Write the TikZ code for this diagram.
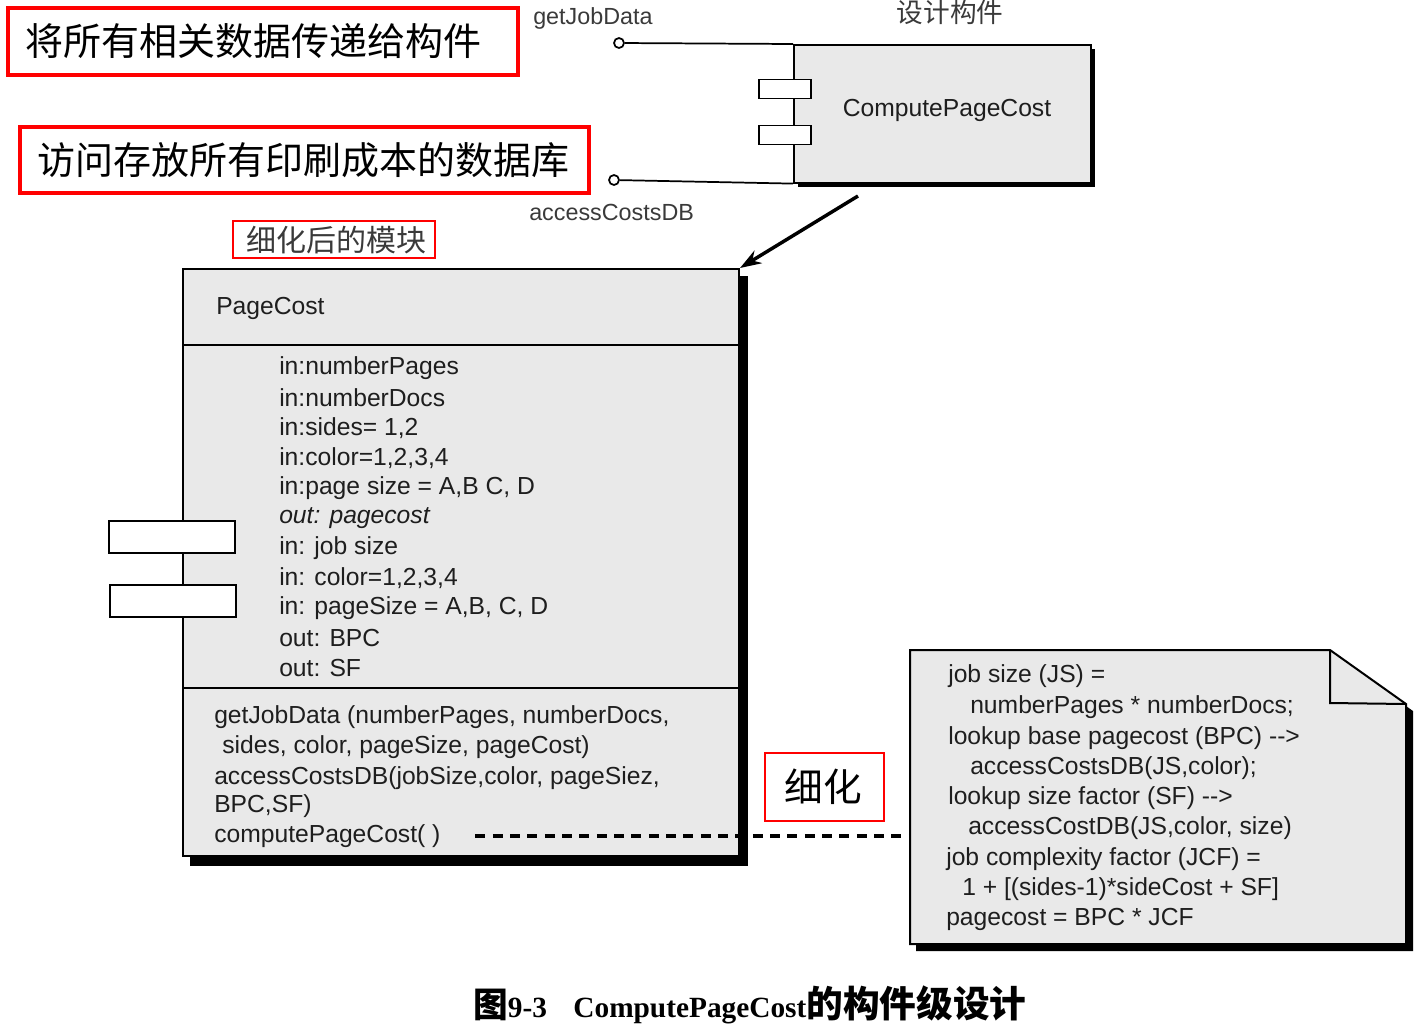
\documentclass[tikz,border=0pt]{standalone}
\usepackage{fontspec}
\setmainfont{Liberation Sans}
\newfontfamily\cjk{Noto Sans CJK SC}
\newfontfamily\capserif{Liberation Serif}
\usetikzlibrary{arrows.meta}
\definecolor{boxgray}{HTML}{E9E9E9}
\definecolor{txt}{HTML}{1E1E1E}
\definecolor{lblgray}{HTML}{3A3A3A}
\begin{document}
\begin{tikzpicture}[x=0.75pt,y=-0.75pt,
  redline/.style={draw=red, line width=3pt},
  redthin/.style={draw=red, line width=1.8pt},
  bigcjk/.style={font=\cjk\fontsize{28.5}{31}\selectfont, text=black, inner sep=0pt},
  umltext/.style={font=\fontsize{18.5}{20}\selectfont, text=txt, inner sep=0pt, anchor=west},
  port/.style={draw=black, fill=white, line width=1.3pt, inner sep=0pt},
  lbl/.style={font=\fontsize{17.5}{19}\selectfont, text=lblgray, inner sep=0pt},
  iface/.style={circle, draw=black, line width=1.3pt, fill=white, inner sep=0pt, minimum size=10*0.75pt},
]
\useasboundingbox (0,0) rectangle (1428,1029);

% ---------- red annotation boxes ----------
\draw[redline] (8,8) rectangle (518,75);
\node[bigcjk, anchor=west] (r1) at (25,41.5) {将所有相关数据传递给构件};
\draw[redline] (20,127) rectangle (589,193);
\node[bigcjk, anchor=west] (r2) at (37,160) {访问存放所有印刷成本的数据库};
\draw[redthin] (233,221) rectangle (435,258);
\node[font=\cjk\fontsize{22.5}{25}\selectfont, text=lblgray, inner sep=0pt] (r3) at (336,240) {细化后的模块};
\draw[redthin] (765,753) rectangle (884,821);
\node[font=\cjk\fontsize{29}{32}\selectfont, text=black, inner sep=0pt] (r4) at (823,787) {细化};

% ---------- top component ----------
\fill[black] (798,49) rectangle (1095,187);
\node[draw=black, fill=boxgray, line width=1.2pt, anchor=north west,
      minimum width=297*0.75pt, minimum height=138*0.75pt] (cpc) at (793,44) {};
\node[font=\fontsize{18.5}{20}\selectfont, text=txt, inner sep=0pt] (cpct) at (947,110) {ComputePageCost};
\node[port, minimum width=52*0.75pt, minimum height=19*0.75pt] (tp1) at (785,89) {};
\node[port, minimum width=52*0.75pt, minimum height=19*0.75pt] (tp2) at (785,135) {};
\node[iface] (c1) at (619,43) {};
\node[iface] (c2) at (614,180) {};
\draw[line width=1.3pt] (c1) -- (cpc.north west);
\draw[line width=1.3pt] (c2) -- (cpc.south west);
\node[lbl, anchor=west] (l1) at (533,18) {getJobData};
\node[lbl, anchor=west] (l2) at (529,212) {accessCostsDB};
\node[font=\cjk\fontsize{20}{22}\selectfont, text=lblgray, inner sep=0pt] (l3) at (950,12) {设计构件};

% ---------- PageCost component ----------
\fill[black] (190,276) rectangle (748,866);
\node[draw=black, fill=boxgray, line width=1.5pt, anchor=north west,
      minimum width=556*0.75pt, minimum height=587*0.75pt] (pc) at (182,268) {};
\draw[line width=1.5pt] (182,345) -- (738,345);
\draw[line width=1.5pt] (182,688) -- (738,688);
\node[umltext] (hdr) at (216,308) {PageCost};

\node[port, minimum width=126*0.75pt, minimum height=32*0.75pt] (lp1) at (172,537) {};
\node[port, minimum width=126*0.75pt, minimum height=32*0.75pt] (lp2) at (173,601) {};

\node[umltext] (a1) at (279,368) {in:numberPages};
\node[umltext] (a2) at (279,398) {in:numberDocs};
\node[umltext] (a3) at (279,428) {in:sides= 1,2};
\node[umltext] (a4) at (279,458) {in:color=1,2,3,4};
\node[umltext] (a5) at (279,488) {in:page size = A,B C, D};
\node[umltext] (a6) at (279,518) {\itshape out: pagecost};
\node[umltext] (a7) at (279,548) {in: job size};
\node[umltext] (a8) at (279,578) {in: color=1,2,3,4};
\node[umltext] (a9) at (279,608) {in: pageSize = A,B, C, D};
\node[umltext] (a10) at (279,638) {out: BPC};
\node[umltext] (a11) at (279,668) {out: SF};

\node[umltext] (o1) at (214,717) {getJobData (numberPages, numberDocs,};
\node[umltext] (o2) at (222,747) {sides, color, pageSize, pageCost)};
\node[umltext] (o3) at (214,778) {accessCostsDB(jobSize,color, pageSiez,};
\node[umltext] (o4) at (214,806) {BPC,SF)};
\node[umltext] (o5) at (214,836) {computePageCost( )};

% refinement arrow
\coordinate (as) at (858,196);
\draw[-{Stealth[length=16pt,width=11pt]}, line width=2.6pt] (as) -- (pc.north east);

% ---------- note ----------
\fill[black] (916,656) -- (1336,656) -- (1413,711) -- (1413,951) -- (916,951) -- cycle;
\node[inner sep=0pt, anchor=north west, minimum width=495*0.75pt, minimum height=295*0.75pt] (note) at (910,650) {};
\filldraw[fill=boxgray, draw=black, line width=1.5pt]
  (910,650) -- (1330,650) -- (1406,704) -- (1406,944) -- (910,944) -- cycle;
\draw[line width=1.5pt] (1330,650) -- (1330,703) -- (1406,704);

\node[umltext] (n1) at (948,676) {job size (JS) =};
\node[umltext] (n2) at (970,707) {numberPages * numberDocs;};
\node[umltext] (n3) at (948,738) {lookup base pagecost (BPC) -{}->};
\node[umltext] (n4) at (970,768) {accessCostsDB(JS,color);};
\node[umltext] (n5) at (948,798) {lookup size factor (SF) -{}->};
\node[umltext] (n6) at (968,828) {accessCostDB(JS,color, size)};
\node[umltext] (n7) at (946,859) {job complexity factor (JCF) =};
\node[umltext] (n8) at (962,889) {1 + [(sides-1)*sideCost + SF]};
\node[umltext] (n9) at (946,919) {pagecost = BPC * JCF};

% dashed connector
\draw[line width=3pt, dash pattern=on 7.5pt off 5.5pt] ([xshift=26pt]o5.east) -- (note.west |- o5.east);

% ---------- caption ----------
\node[inner sep=0pt, anchor=west] (cap) at (473,1005)
  {{\cjk\bfseries\fontsize{26}{28}\selectfont 图}{\capserif\bfseries\fontsize{22}{26}\selectfont 9-3\hspace{0.9em}ComputePageCost}{\cjk\bfseries\fontsize{27.5}{30}\selectfont 的构件级设计}};
\end{tikzpicture}
\end{document}
